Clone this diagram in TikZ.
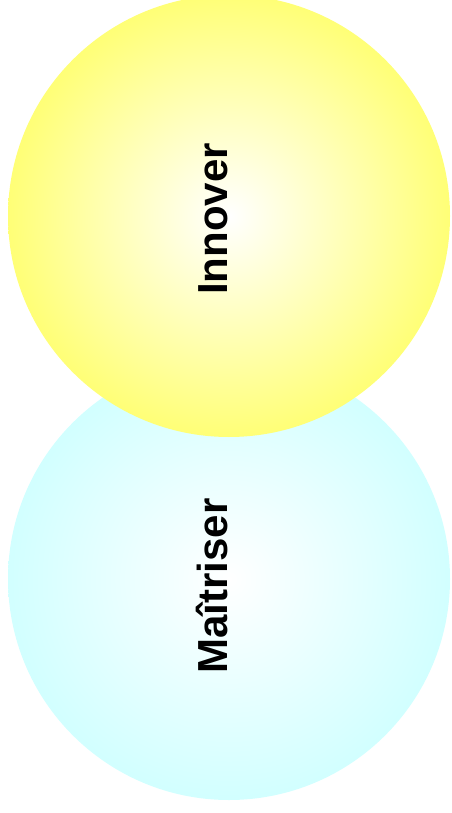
\documentclass[tikz,border=0pt]{standalone}
\usepackage{fontspec}
\setmainfont{Liberation Sans}[BoldFont=Liberation Sans Bold]
\usetikzlibrary{positioning}
\definecolor{sunyellow}{RGB}{255,255,102}
\definecolor{palecyan}{RGB}{204,255,255}
\pgfdeclareradialshading{yellowglow}{\pgfpoint{0bp}{0bp}}{color(0bp)=(white); color(28bp)=(sunyellow); color(50bp)=(sunyellow)}
\pgfdeclareradialshading{cyanglow}{\pgfpoint{0bp}{0bp}}{color(0bp)=(white); color(28bp)=(palecyan); color(50bp)=(palecyan)}

\begin{document}
\begin{tikzpicture}[x=1pt,y=-1pt,
  disc/.style={circle,minimum size=442pt,inner sep=0pt},
  word/.style={font=\bfseries\fontsize{42}{42}\selectfont,rotate=90,anchor=base,inner sep=0pt}]
  \useasboundingbox (0,0) rectangle (451,813);
  \node[disc,shading=cyanglow] (maitriser) at (229,579) {};
  \node[disc,shading=yellowglow] (innover) at (229,216) {};
  \node[word] (innoverlbl) at (227,219) {Innover};
  \node[word] (maitriserlbl) at (227,586) {Maîtriser};
\end{tikzpicture}
\end{document}
